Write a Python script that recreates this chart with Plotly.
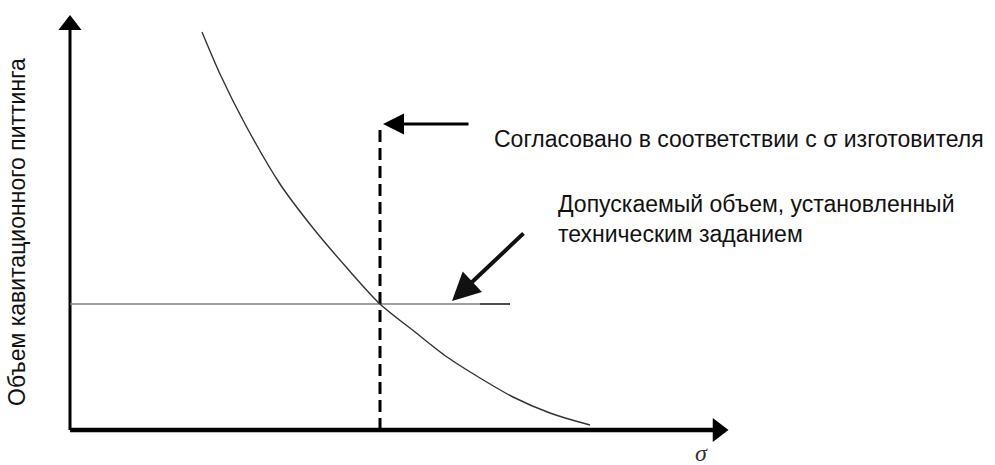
import plotly.graph_objects as go

# Curve: cavitation pitting volume vs sigma (schematic units)
sigma = [132, 150, 175, 210, 243, 277, 310, 345, 377, 410, 443, 480, 520]
volume = [398, 356, 306, 246, 202, 162, 126, 98, 73, 52, 33, 17, 5]

# Reference levels
allowed_volume = 126
agreed_sigma = 310
level_end = 440
axis_x_end = 648
axis_y_end = 405

y_title = "Объем кавитационного питтинга"
x_title = "σ"
agreed_label = "Согласовано в соответствии с σ изготовителя"
allowed_label = ["Допускаемый объем, установленный", "техническим заданием"]

fig = go.Figure()

# Axes drawn as thick lines with triangular heads
fig.add_trace(go.Scatter(x=[0, 0], y=[0, axis_y_end], mode='lines',
                         line=dict(color='black', width=3), hoverinfo='skip'))
fig.add_trace(go.Scatter(x=[0, axis_x_end], y=[0, 0], mode='lines',
                         line=dict(color='black', width=4.5), hoverinfo='skip'))
fig.add_trace(go.Scatter(x=[0], y=[axis_y_end], mode='markers',
                         marker=dict(symbol='triangle-up', size=20, color='black'),
                         hoverinfo='skip'))
fig.add_trace(go.Scatter(x=[axis_x_end], y=[0], mode='markers',
                         marker=dict(symbol='triangle-right', size=21, color='black'),
                         hoverinfo='skip'))

# Allowed volume level
fig.add_trace(go.Scatter(x=[0, level_end], y=[allowed_volume, allowed_volume], mode='lines',
                         line=dict(color='#808080', width=1.6), hoverinfo='skip'))
fig.add_trace(go.Scatter(x=[level_end - 30, level_end], y=[allowed_volume, allowed_volume],
                         mode='lines', line=dict(color='#222222', width=1.3), hoverinfo='skip'))

# Agreed sigma, dashed
fig.add_trace(go.Scatter(x=[agreed_sigma, agreed_sigma], y=[0, 306], mode='lines',
                         line=dict(color='black', width=3, dash='12px,6px'), hoverinfo='skip'))

# Pitting curve
fig.add_trace(go.Scatter(x=sigma, y=volume, mode='lines',
                         line=dict(color='#333333', width=1.4, shape='spline', smoothing=0.8),
                         hoverinfo='skip'))

# Pointer arrows
fig.add_annotation(x=313, y=306, ax=400, ay=306, xref='x', yref='y', axref='x', ayref='y',
                   text='', showarrow=True, arrowhead=2, arrowsize=1.4, arrowwidth=3,
                   arrowcolor='black', standoff=0)
fig.add_annotation(x=382, y=129, ax=455, ay=198, xref='x', yref='y', axref='x', ayref='y',
                   text='', showarrow=True, arrowhead=2, arrowsize=1.4, arrowwidth=4,
                   arrowcolor='#111111', standoff=0)

font = dict(family='Liberation Sans, Arial, sans-serif', size=23, color='#111111')
fig.add_annotation(x=422, y=291, xref='x', yref='y', text=agreed_label, showarrow=False,
                   xanchor='left', yanchor='middle', font=font)
fig.add_annotation(x=486, y=226, xref='x', yref='y', text=allowed_label[0], showarrow=False,
                   xanchor='left', yanchor='middle', font=font)
fig.add_annotation(x=486, y=196, xref='x', yref='y', text=allowed_label[1], showarrow=False,
                   xanchor='left', yanchor='middle', font=font)
fig.add_annotation(x=-53, y=198, xref='x', yref='y', text=y_title, showarrow=False,
                   textangle=-90, xanchor='center', yanchor='middle', font=font)
fig.add_annotation(x=631, y=-23, xref='x', yref='y', text='<i>' + x_title + '</i>',
                   showarrow=False, xanchor='center', yanchor='middle',
                   font=dict(family='Liberation Serif, Times New Roman, serif', size=24,
                             color='#333333'))

fig.update_layout(
    width=995, height=465,
    margin=dict(l=0, r=0, t=0, b=0),
    paper_bgcolor='white', plot_bgcolor='white',
    showlegend=False,
    xaxis=dict(range=[-70, 925], visible=False, fixedrange=True),
    yaxis=dict(range=[-35, 430], visible=False, fixedrange=True),
)

# drop the page's default body margin so the figure sits at the window's corner
fig.write_html("out.html", config={'displayModeBar': False},
               post_script="document.body.style.margin = '0';")
